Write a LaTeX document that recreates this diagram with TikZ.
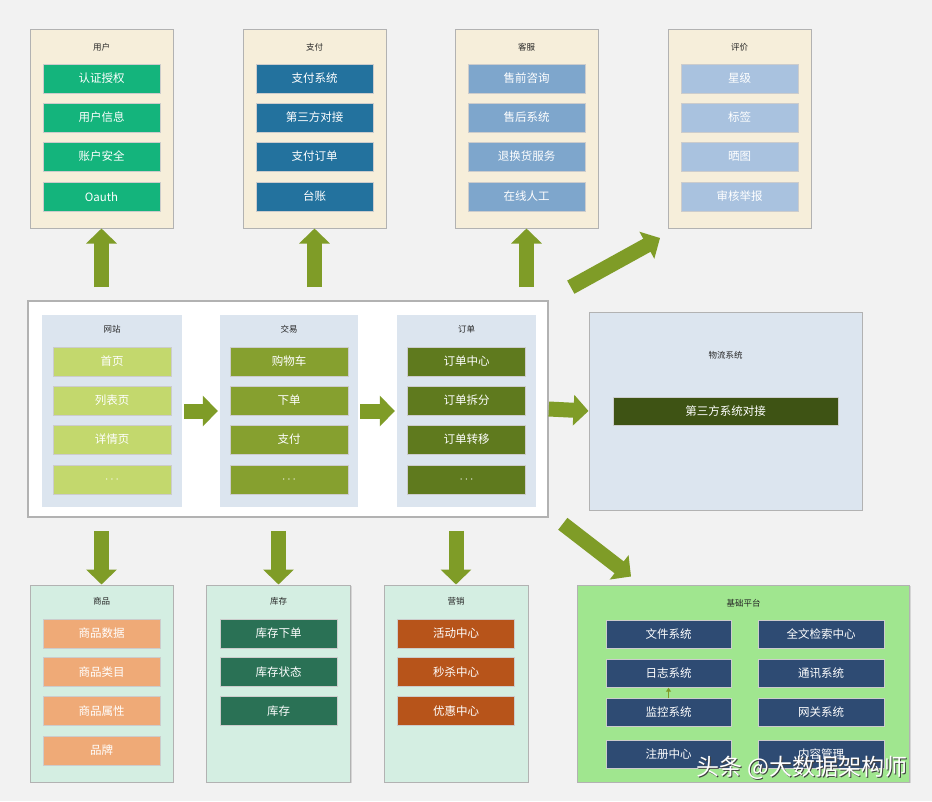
\documentclass[tikz,border=0pt]{standalone}
\usepackage{fontspec}
\setmainfont{Noto Sans CJK SC}
\usetikzlibrary{arrows.meta,shadows}
\definecolor{bg}{HTML}{F2F2F2}
\definecolor{cream}{HTML}{F6EEDA}
\definecolor{mint}{HTML}{D4EEE2}
\definecolor{pale}{HTML}{DCE5EF}
\definecolor{lime}{HTML}{A0E68F}
\definecolor{arr}{HTML}{7F9C27}
\definecolor{usr}{HTML}{14B47C}
\definecolor{pay}{HTML}{23729E}
\definecolor{svc}{HTML}{7EA6CC}
\definecolor{rate}{HTML}{A9C2DF}
\definecolor{web}{HTML}{C3D86D}
\definecolor{trd}{HTML}{86A02F}
\definecolor{ord}{HTML}{5F7A1E}
\definecolor{lgs}{HTML}{3E5314}
\definecolor{gds}{HTML}{EFAA77}
\definecolor{stk}{HTML}{2A7155}
\definecolor{mkt}{HTML}{B7541A}
\definecolor{base}{HTML}{2E4B73}
\tikzset{panel/.style={draw=black!30,line width=1pt,
    drop shadow={opacity=.25,shadow xshift=1.2pt,shadow yshift=-1.2pt}},
  item/.style={minimum width=117pt,minimum height=29pt,inner sep=0pt,text=white,
    draw=white!80!black,line width=.4pt,font=\fontsize{11.5}{12}\selectfont},
  ttl/.style={font=\fontsize{8.5}{10}\selectfont,text=black!85},
  fat/.style={draw=arr,line width=15pt,-{Triangle[width=30pt,length=15pt]}}}
\begin{document}
\begin{tikzpicture}[x=1pt,y=-1pt]
\fill[bg] (0,0) rectangle (932,801);
\useasboundingbox (0,0) rectangle (932,801);
% top row
\node[panel,fill=cream,minimum width=143,minimum height=199] (user) at (101.5,128.5) {};
\node[panel,fill=cream,minimum width=143,minimum height=199] (pay) at (314.5,128.5) {};
\node[panel,fill=cream,minimum width=143,minimum height=199] (svc) at (526.5,128.5) {};
\node[panel,fill=cream,minimum width=143,minimum height=199] (rate) at (739.5,128.5) {};
\node[ttl] (user-t) at (101.5,47) {用户};\node[ttl] (pay-t) at (314.5,47) {支付};
\node[ttl] (svc-t) at (526.5,47) {客服};\node[ttl] (rate-t) at (739.5,47) {评价};
\node[item,fill=usr] (u1) at (101.5,78.5) {认证授权};\node[item,fill=usr] (u2) at (101.5,117.5) {用户信息};
\node[item,fill=usr] (u3) at (101.5,156.5) {账户安全};\node[item,fill=usr] (u4) at (101.5,196.5) {Oauth};
\node[item,fill=pay] (p1) at (314.5,78.5) {支付系统};\node[item,fill=pay] (p2) at (314.5,117.5) {第三方对接};
\node[item,fill=pay] (p3) at (314.5,156.5) {支付订单};\node[item,fill=pay] (p4) at (314.5,196.5) {台账};
\node[item,fill=svc] (s1) at (526.5,78.5) {售前咨询};\node[item,fill=svc] (s2) at (526.5,117.5) {售后系统};
\node[item,fill=svc] (s3) at (526.5,156.5) {退换货服务};\node[item,fill=svc] (s4) at (526.5,196.5) {在线人工};
\node[item,fill=rate] (r1) at (739.5,78.5) {星级};\node[item,fill=rate] (r2) at (739.5,117.5) {标签};
\node[item,fill=rate] (r3) at (739.5,156.5) {晒图};\node[item,fill=rate] (r4) at (739.5,196.5) {审核举报};
% middle
\node[panel,fill=white,line width=1.6pt,minimum width=520,minimum height=216] (main) at (288,409) {};
\node[fill=pale,minimum width=140,minimum height=192] (site) at (112,411) {};
\node[fill=pale,minimum width=138,minimum height=192] (trade) at (289,411) {};
\node[fill=pale,minimum width=139,minimum height=192] (order) at (466.5,411) {};
\node[ttl] (site-t) at (112,329) {网站};\node[ttl] (trade-t) at (289,329) {交易};\node[ttl] (order-t) at (466.5,329) {订单};
\node[item,fill=web,minimum width=118] (w1) at (112,361.5) {首页};\node[item,fill=web,minimum width=118] (w2) at (112,400.5) {列表页};
\node[item,fill=web,minimum width=118] (w3) at (112,439.5) {详情页};\node[item,fill=web,minimum width=118] (w4) at (112,479.5) {$\cdots$};
\node[item,fill=trd,minimum width=118] (t1) at (289,361.5) {购物车};\node[item,fill=trd,minimum width=118] (t2) at (289,400.5) {下单};
\node[item,fill=trd,minimum width=118] (t3) at (289,439.5) {支付};\node[item,fill=trd,minimum width=118] (t4) at (289,479.5) {$\cdots$};
\node[item,fill=ord,minimum width=118] (o1) at (466.5,361.5) {订单中心};\node[item,fill=ord,minimum width=118] (o2) at (466.5,400.5) {订单拆分};
\node[item,fill=ord,minimum width=118] (o3) at (466.5,439.5) {订单转移};\node[item,fill=ord,minimum width=118] (o4) at (466.5,479.5) {$\cdots$};
\node[panel,fill=pale,minimum width=273,minimum height=198] (lgs) at (725.5,411) {};
\node[ttl] (lgs-t) at (725.5,355) {物流系统};
\node[item,fill=lgs,minimum width=225,minimum height=28] (l1) at (725.5,411) {第三方系统对接};
% bottom row
\node[panel,fill=mint,minimum width=143,minimum height=197] (goods) at (101.5,683.5) {};
\node[panel,fill=mint,minimum width=144,minimum height=197] (stock) at (278.5,683.5) {};
\node[panel,fill=mint,minimum width=144,minimum height=197] (mkt) at (456,683.5) {};
\node[panel,fill=lime,minimum width=332,minimum height=197] (plat) at (743.5,683.5) {};
\node[ttl] (goods-t) at (101.5,601) {商品};\node[ttl] (stock-t) at (278.5,601) {库存};
\node[ttl] (mkt-t) at (456,601) {营销};\node[ttl] (plat-t) at (743.5,603) {基础平台};
\node[item,fill=gds] (g1) at (101.5,633.5) {商品数据};\node[item,fill=gds] (g2) at (101.5,672) {商品类目};
\node[item,fill=gds] (g3) at (101.5,711) {商品属性};\node[item,fill=gds] (g4) at (101.5,750.5) {品牌};
\node[item,fill=stk] (k1) at (278.5,633.5) {库存下单};\node[item,fill=stk] (k2) at (278.5,672) {库存状态};
\node[item,fill=stk] (k3) at (278.5,711) {库存};
\node[item,fill=mkt] (m1) at (456,633.5) {活动中心};\node[item,fill=mkt] (m2) at (456,672) {秒杀中心};
\node[item,fill=mkt] (m3) at (456,711) {优惠中心};
\node[item,fill=base,minimum width=125,minimum height=28] (b1) at (668.5,634.5) {文件系统};
\node[item,fill=base,minimum width=125,minimum height=28] (b2) at (668.5,673.5) {日志系统};
\node[item,fill=base,minimum width=125,minimum height=28] (b3) at (668.5,712.5) {监控系统};
\node[item,fill=base,minimum width=125,minimum height=28] (b4) at (668.5,754) {注册中心};
\node[item,fill=base,minimum width=126,minimum height=28] (b5) at (821,634.5) {全文检索中心};
\node[item,fill=base,minimum width=126,minimum height=28] (b6) at (821,673.5) {通讯系统};
\node[item,fill=base,minimum width=126,minimum height=28] (b7) at (821,712.5) {网关系统};
\node[item,fill=base,minimum width=126,minimum height=28] (b8) at (821,754) {内容管理};
\draw[draw=arr,line width=1.5pt,-{Triangle[width=5pt,length=4pt]}] (b3.north) -- (b2.south);
% arrows
\coordinate (rate-in) at (660,238);
\draw[fat] ([yshift=13pt]main.north -| user.south) -- (user.south);
\draw[fat] ([yshift=13pt]main.north -| pay.south) -- (pay.south);
\draw[fat] ([yshift=13pt]main.north -| svc.south) -- (svc.south);
\draw[fat] ([shift={(22pt,13pt)}]main.north east) -- (rate-in);
\draw[fat] ([xshift=2pt]site.east) -- ([xshift=-2pt]trade.west);
\draw[fat] ([xshift=2pt]trade.east) -- ([xshift=-2pt]order.west);
\draw[fat] (main.east) -- (lgs.west);
\draw[fat] ([yshift=-13pt]main.south -| goods.north) -- (goods.north);
\draw[fat] ([yshift=-13pt]main.south -| stock.north) -- (stock.north);
\draw[fat] ([yshift=-13pt]main.south -| mkt.north) -- (mkt.north);
\draw[fat] ([shift={(14pt,-6pt)}]main.south east) -- ([shift={(54pt,8pt)}]plat.north west);
% watermark
\node[text=black!75,font=\fontsize{23}{24}\selectfont] (wm-s) at (803.2,769.2) {头条 @大数据架构师};
\node[text=white,font=\fontsize{23}{24}\selectfont] (wm) at (802,768) {头条 @大数据架构师};
\end{tikzpicture}
\end{document}
